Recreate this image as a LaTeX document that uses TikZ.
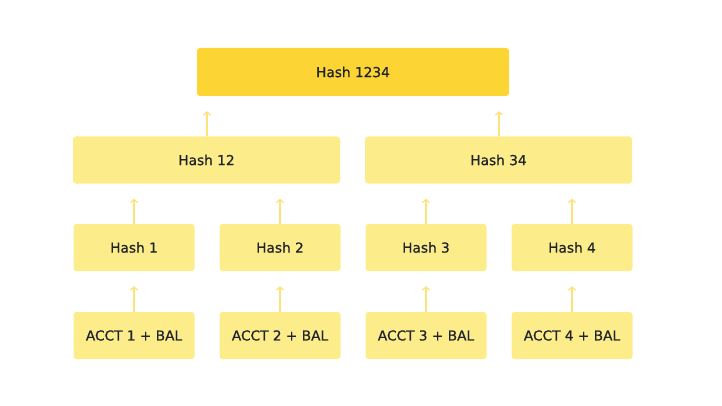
\documentclass[tikz,border=0pt]{standalone}
\usepackage{fontspec}
\setmainfont{DejaVu Sans}
\newfontfamily\boxfont[FakeBold=0.6]{DejaVu Sans}
\usepackage{tikz}
\usetikzlibrary{positioning, arrows.meta}
\definecolor{rootyellow}{HTML}{FCD535}
\definecolor{boxyellow}{HTML}{FDED8A}
\definecolor{linkyellow}{HTML}{FDE27A}
\definecolor{labeltext}{HTML}{1E2329}

\begin{document}
\begin{tikzpicture}[
    x=1pt, y=-1pt,
    every node/.style={rounded corners=3pt, minimum height=47pt, align=center, inner sep=0pt,
        text=labeltext, font=\boxfont\fontsize{13.7}{16}\selectfont},
    hashbox/.style={fill=boxyellow, minimum width=121pt},
    widebox/.style={fill=boxyellow, minimum width=267pt},
    rootbox/.style={fill=rootyellow, minimum width=312pt, minimum height=48pt},
    link/.style={draw=linkyellow, line width=1.3pt, -{Straight Barb[length=3pt, width=7pt]}, shorten >=15pt}
]
\useasboundingbox (0,0) rectangle (722,406);

\node[rootbox] (root) at (353,72) {Hash 1234};

\node[widebox] (h12) at (206.5,160) {Hash 12};
\node[widebox] (h34) at (498.5,160) {Hash 34};

\node[hashbox] (h1) at (134,247.5) {Hash 1};
\node[hashbox] (h2) at (280,247.5) {Hash 2};
\node[hashbox] (h3) at (426,247.5) {Hash 3};
\node[hashbox] (h4) at (572,247.5) {Hash 4};

\node[hashbox] (a1) at (134,335.5) {ACCT 1 + BAL};
\node[hashbox] (a2) at (280,335.5) {ACCT 2 + BAL};
\node[hashbox] (a3) at (426,335.5) {ACCT 3 + BAL};
\node[hashbox] (a4) at (572,335.5) {ACCT 4 + BAL};

% links up the tree
\draw[link] (h12.north -| 207,0) -- (root.south -| 207,0);
\draw[link] (h34.north -| 499,0) -- (root.south -| 499,0);
\foreach \n/\m in {h1/h12, h2/h12, h3/h34, h4/h34}
    \draw[link] (\n.north) -- (\m.south -| \n.north);
\foreach \n/\m in {a1/h1, a2/h2, a3/h3, a4/h4}
    \draw[link] (\n.north) -- (\m.south);
\end{tikzpicture}
\end{document}
